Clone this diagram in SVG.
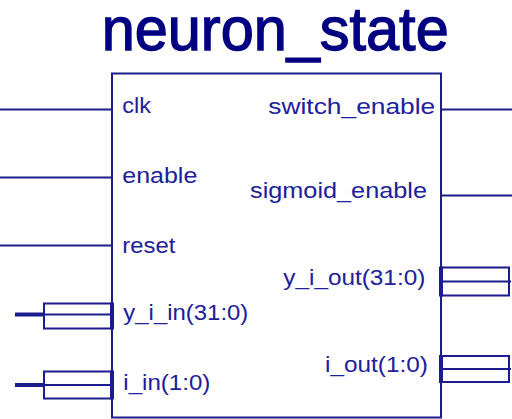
<svg xmlns="http://www.w3.org/2000/svg" width="512" height="419" viewBox="0 0 512 419">
  <style>
    .wire { stroke: #1c1c8e; stroke-width: 2; fill: none; }
    .bus { stroke: #1c1c8e; stroke-width: 4; fill: none; }
    .busbox { stroke: #1c1c8e; stroke-width: 2; fill: #ffffff; }
    .lbl { font-family: "Liberation Sans", Arial, sans-serif; font-size: 22px; fill: #20209a; }
    .title { font-family: "Liberation Sans", Arial, sans-serif; font-size: 55px; fill: #000080; stroke: #000080; stroke-width: 1.2px; }
  </style>
  <rect width="512" height="419" fill="#ffffff"/>

  <!-- block name, drawn a little taller than the stock face -->
  <text class="title" transform="translate(101.7,50) scale(1,1.12)" x="0" y="0" textLength="347" lengthAdjust="spacingAndGlyphs">neuron_state</text>

  <g id="connectors">
    <!-- single-bit inputs -->
    <line class="wire" x1="0" y1="109.5" x2="112" y2="109.5"/>
    <line class="wire" x1="0" y1="177.5" x2="112" y2="177.5"/>
    <line class="wire" x1="0" y1="245.5" x2="112" y2="245.5"/>
    <!-- single-bit outputs -->
    <line class="wire" x1="441" y1="109.5" x2="512" y2="109.5"/>
    <line class="wire" x1="441" y1="195.5" x2="512" y2="195.5"/>
    <!-- input buses -->
    <line class="bus" x1="15" y1="314.5" x2="44" y2="314.5"/>
    <line class="bus" x1="15" y1="385" x2="44" y2="385"/>
  </g>

  <g id="neuron_state">
    <rect class="wire" x="112" y="73.5" width="329" height="344"/>
  </g>

  <g id="port_clk">
    <text class="lbl" x="122.3" y="113.3" textLength="28.7" lengthAdjust="spacingAndGlyphs">clk</text>
  </g>
  <g id="port_enable">
    <text class="lbl" x="122.3" y="183" textLength="75" lengthAdjust="spacingAndGlyphs">enable</text>
  </g>
  <g id="port_reset">
    <text class="lbl" x="122.3" y="252.7" textLength="53" lengthAdjust="spacingAndGlyphs">reset</text>
  </g>
  <g id="port_y_i_in">
    <rect class="busbox" x="44" y="303.5" width="68" height="25"/>
    <line class="wire" x1="44" y1="314.5" x2="112" y2="314.5"/>
    <line class="bus" x1="112" y1="302.5" x2="112" y2="329.5"/>
    <text class="lbl" x="123.3" y="320" textLength="125" lengthAdjust="spacingAndGlyphs">y_i_in(31:0)</text>
  </g>
  <g id="port_i_in">
    <rect class="busbox" x="44" y="371.5" width="68" height="27"/>
    <line class="wire" x1="44" y1="385" x2="112" y2="385"/>
    <line class="bus" x1="112" y1="370.5" x2="112" y2="399.5"/>
    <text class="lbl" x="123.3" y="389.5" textLength="87" lengthAdjust="spacingAndGlyphs">i_in(1:0)</text>
  </g>
  <g id="port_switch_enable">
    <text class="lbl" x="268.3" y="113.5" textLength="167" lengthAdjust="spacingAndGlyphs">switch_enable</text>
  </g>
  <g id="port_sigmoid_enable">
    <text class="lbl" x="250" y="198.3" textLength="177" lengthAdjust="spacingAndGlyphs">sigmoid_enable</text>
  </g>
  <g id="port_y_i_out">
    <rect class="busbox" x="441" y="267.5" width="68" height="28"/>
    <line class="wire" x1="441" y1="281.5" x2="511" y2="281.5"/>
    <line class="bus" x1="441" y1="266.5" x2="441" y2="296.5"/>
    <text class="lbl" x="283.3" y="284.7" textLength="142" lengthAdjust="spacingAndGlyphs">y_i_out(31:0)</text>
  </g>
  <g id="port_i_out">
    <rect class="busbox" x="441" y="356" width="68" height="26"/>
    <line class="wire" x1="441" y1="369" x2="511" y2="369"/>
    <line class="bus" x1="441" y1="355" x2="441" y2="383"/>
    <text class="lbl" x="325" y="372" textLength="103" lengthAdjust="spacingAndGlyphs">i_out(1:0)</text>
  </g>
</svg>
